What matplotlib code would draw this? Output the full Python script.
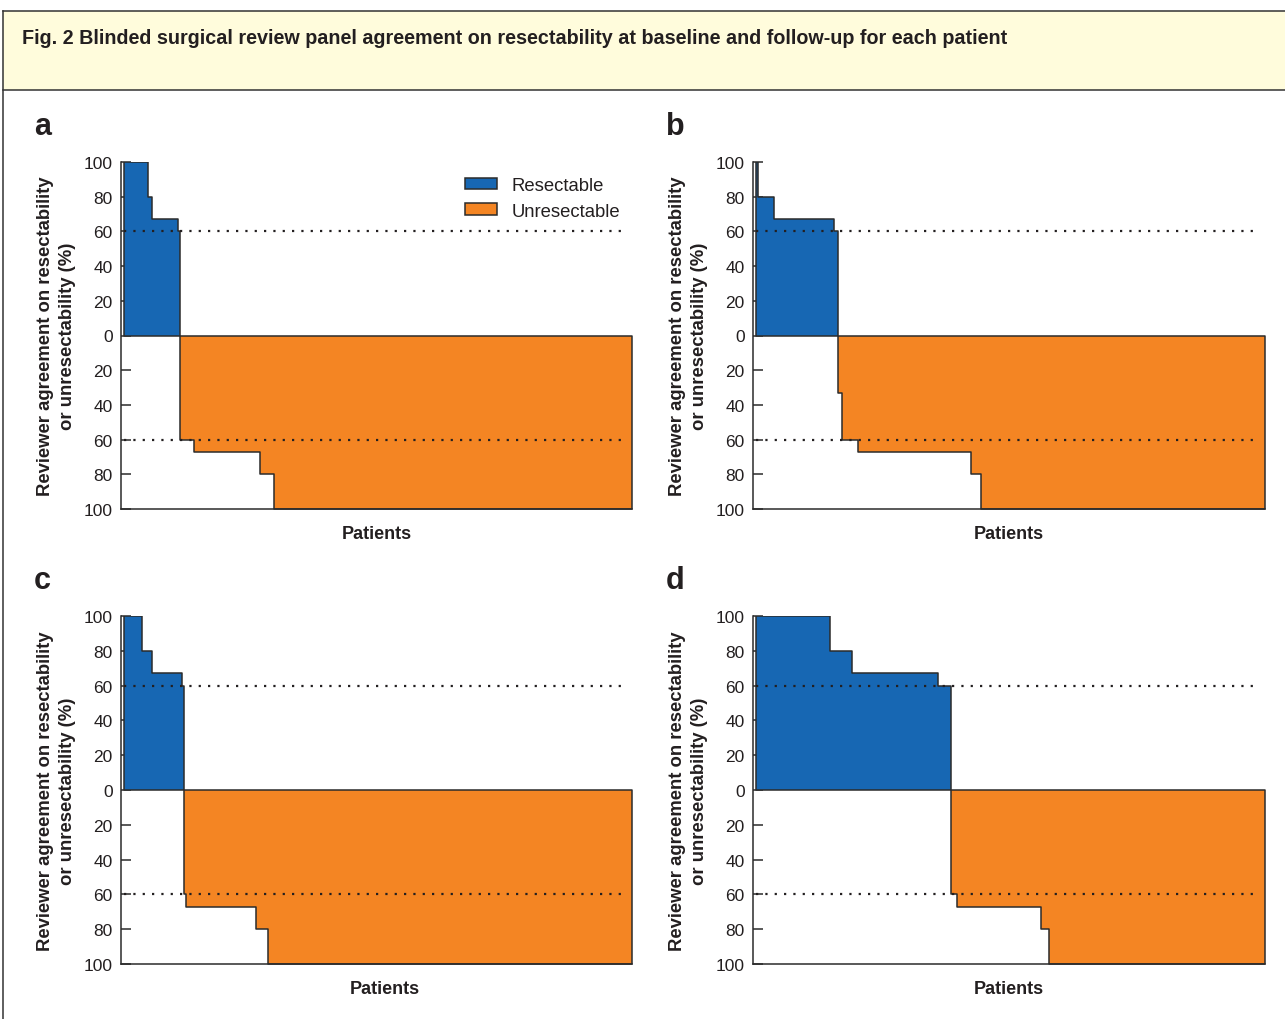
import numpy as np
import matplotlib
matplotlib.use("Agg")
from matplotlib import pyplot as plt
from matplotlib.patches import Rectangle, Patch
from matplotlib.lines import Line2D

plt.rcParams['font.family'] = ['Liberation Sans', 'DejaVu Sans']

# agreement level (%) per step, positive = resectable, negative = unresectable
levels = [100, 80, 67, 60, -60, -67, -80, -100]
levels_b = [100, 80, 67, 60, -33, -60, -67, -80, -100]

# number of patients at each level, per panel
counts_a = [12, 2, 13, 1, 7, 33, 7, 179]
counts_b = [1, 8, 30, 2, 2, 8, 56, 5, 142]
counts_c = [9, 5, 15, 1, 1, 35, 6, 182]
counts_d = [37, 11, 43, 6, 3, 42, 4, 108]

panel_names = ['a', 'b', 'c', 'd']
yticks = [-100, -80, -60, -40, -20, 0, 20, 40, 60, 80, 100]
ytick_labels = [str(abs(t)) for t in yticks]
threshold = 60

BLUE = '#1767b3'
ORANGE = '#f48523'
EDGE = '#2b2b2b'
TXT = '#231f20'

W, H = 1285, 1020
fig = plt.figure(figsize=(W / 100, H / 100), dpi=100)


def fx(px):
    return px / W


def fy(py):
    return 1 - py / H


# header box and frame
fig.patches.append(Rectangle((fx(3), fy(91)), 1, fy(12) - fy(91), transform=fig.transFigure,
                             facecolor='#fffcdc', edgecolor='none', zorder=0))
for xs, ys in [([3, 1290], [12, 12]), ([3, 1290], [91, 91]), ([3, 3], [12, 1025])]:
    fig.add_artist(Line2D([fx(v) for v in xs], [fy(v) for v in ys], transform=fig.transFigure,
                          color='#333333', lw=1.1))
fig.text(fx(22), fy(38), 'Fig. 2 Blinded surgical review panel agreement on resectability at baseline '
         'and follow-up for each patient', fontsize=14.2, fontweight='bold', color=TXT, va='center')

# axes boxes in pixels: left, top, right, bottom
boxes = [(121, 163, 632, 510), (753, 163, 1265, 510), (121, 617, 632, 965), (753, 617, 1265, 965)]
data = [(levels, counts_a), (levels_b, counts_b), (levels, counts_c), (levels, counts_d)]
xlabel_pos = [0.5, 0.5, 0.517, 0.5]
offset = 1.6

for i, ((l, t, r, b), (lv, cn)) in enumerate(zip(boxes, data)):
    ax = fig.add_axes([fx(l), fy(b), fx(r - l), fy(t) - fy(b)])
    lv = np.array(lv)
    cn = np.array(cn)
    edges = offset + np.concatenate([[0], np.cumsum(cn)])
    pos = lv > 0
    n_pos = pos.sum()

    xb = edges[:n_pos + 1]
    yb = np.append(lv[:n_pos], lv[n_pos - 1])
    ax.fill_between(xb, yb, 0, step='post', facecolor=BLUE, edgecolor=EDGE, lw=1.1, zorder=2)
    xo = edges[n_pos:]
    yo = np.append(lv[n_pos:], lv[-1])
    ax.fill_between(xo, yo, 0, step='post', facecolor=ORANGE, edgecolor=EDGE, lw=1.1, zorder=2)

    ax.plot([offset, edges[-1] - 3], [threshold, threshold], color=TXT, lw=1.6,
            linestyle=(0, (1, 3.2)), zorder=3)
    ax.plot([offset, edges[-1] - 3], [-threshold, -threshold], color=TXT, lw=1.6,
            linestyle=(0, (1, 3.2)), zorder=3)

    ax.set_xlim(0, edges[-1])
    ax.set_ylim(-100, 100)
    ax.set_yticks(yticks)
    ax.set_yticklabels(ytick_labels)
    ax.set_xticks([])
    ax.tick_params(axis='y', direction='in', length=7, width=1.1, color=EDGE,
                   labelsize=12.5, labelcolor=TXT, pad=6)
    for s in ['top', 'right']:
        ax.spines[s].set_visible(False)
    for s in ['left', 'bottom']:
        ax.spines[s].set_color(EDGE)
        ax.spines[s].set_linewidth(1.1)
    ax.set_xlabel('Patients', fontsize=13, fontweight='bold', color=TXT, labelpad=8)
    ax.xaxis.set_label_coords(xlabel_pos[i], -0.045)
    ax.set_ylabel('Reviewer agreement on resectability\nor unresectability (%)', fontsize=13.3,
                  fontweight='bold', color=TXT, linespacing=1.4)
    ax.yaxis.set_label_coords(-0.088, 0.5)
    ax.patch.set_alpha(0)

    fig.text(fx(l - 87), fy(t - 36), panel_names[i], fontsize=22, fontweight='bold',
             color=TXT, va='center')

    if i == 0:
        handles = [Patch(facecolor=BLUE, edgecolor=EDGE, lw=1.1, label='Resectable'),
                   Patch(facecolor=ORANGE, edgecolor=EDGE, lw=1.1, label='Unresectable')]
        ax.legend(handles=handles, loc='upper left', bbox_to_anchor=(0.673, 0.956), frameon=False,
                  fontsize=13.3, handlelength=1.74, handleheight=0.56, handletextpad=0.8,
                  labelspacing=0.45, borderpad=0, borderaxespad=0, labelcolor=TXT)

fig.savefig('out.png', dpi=100)
